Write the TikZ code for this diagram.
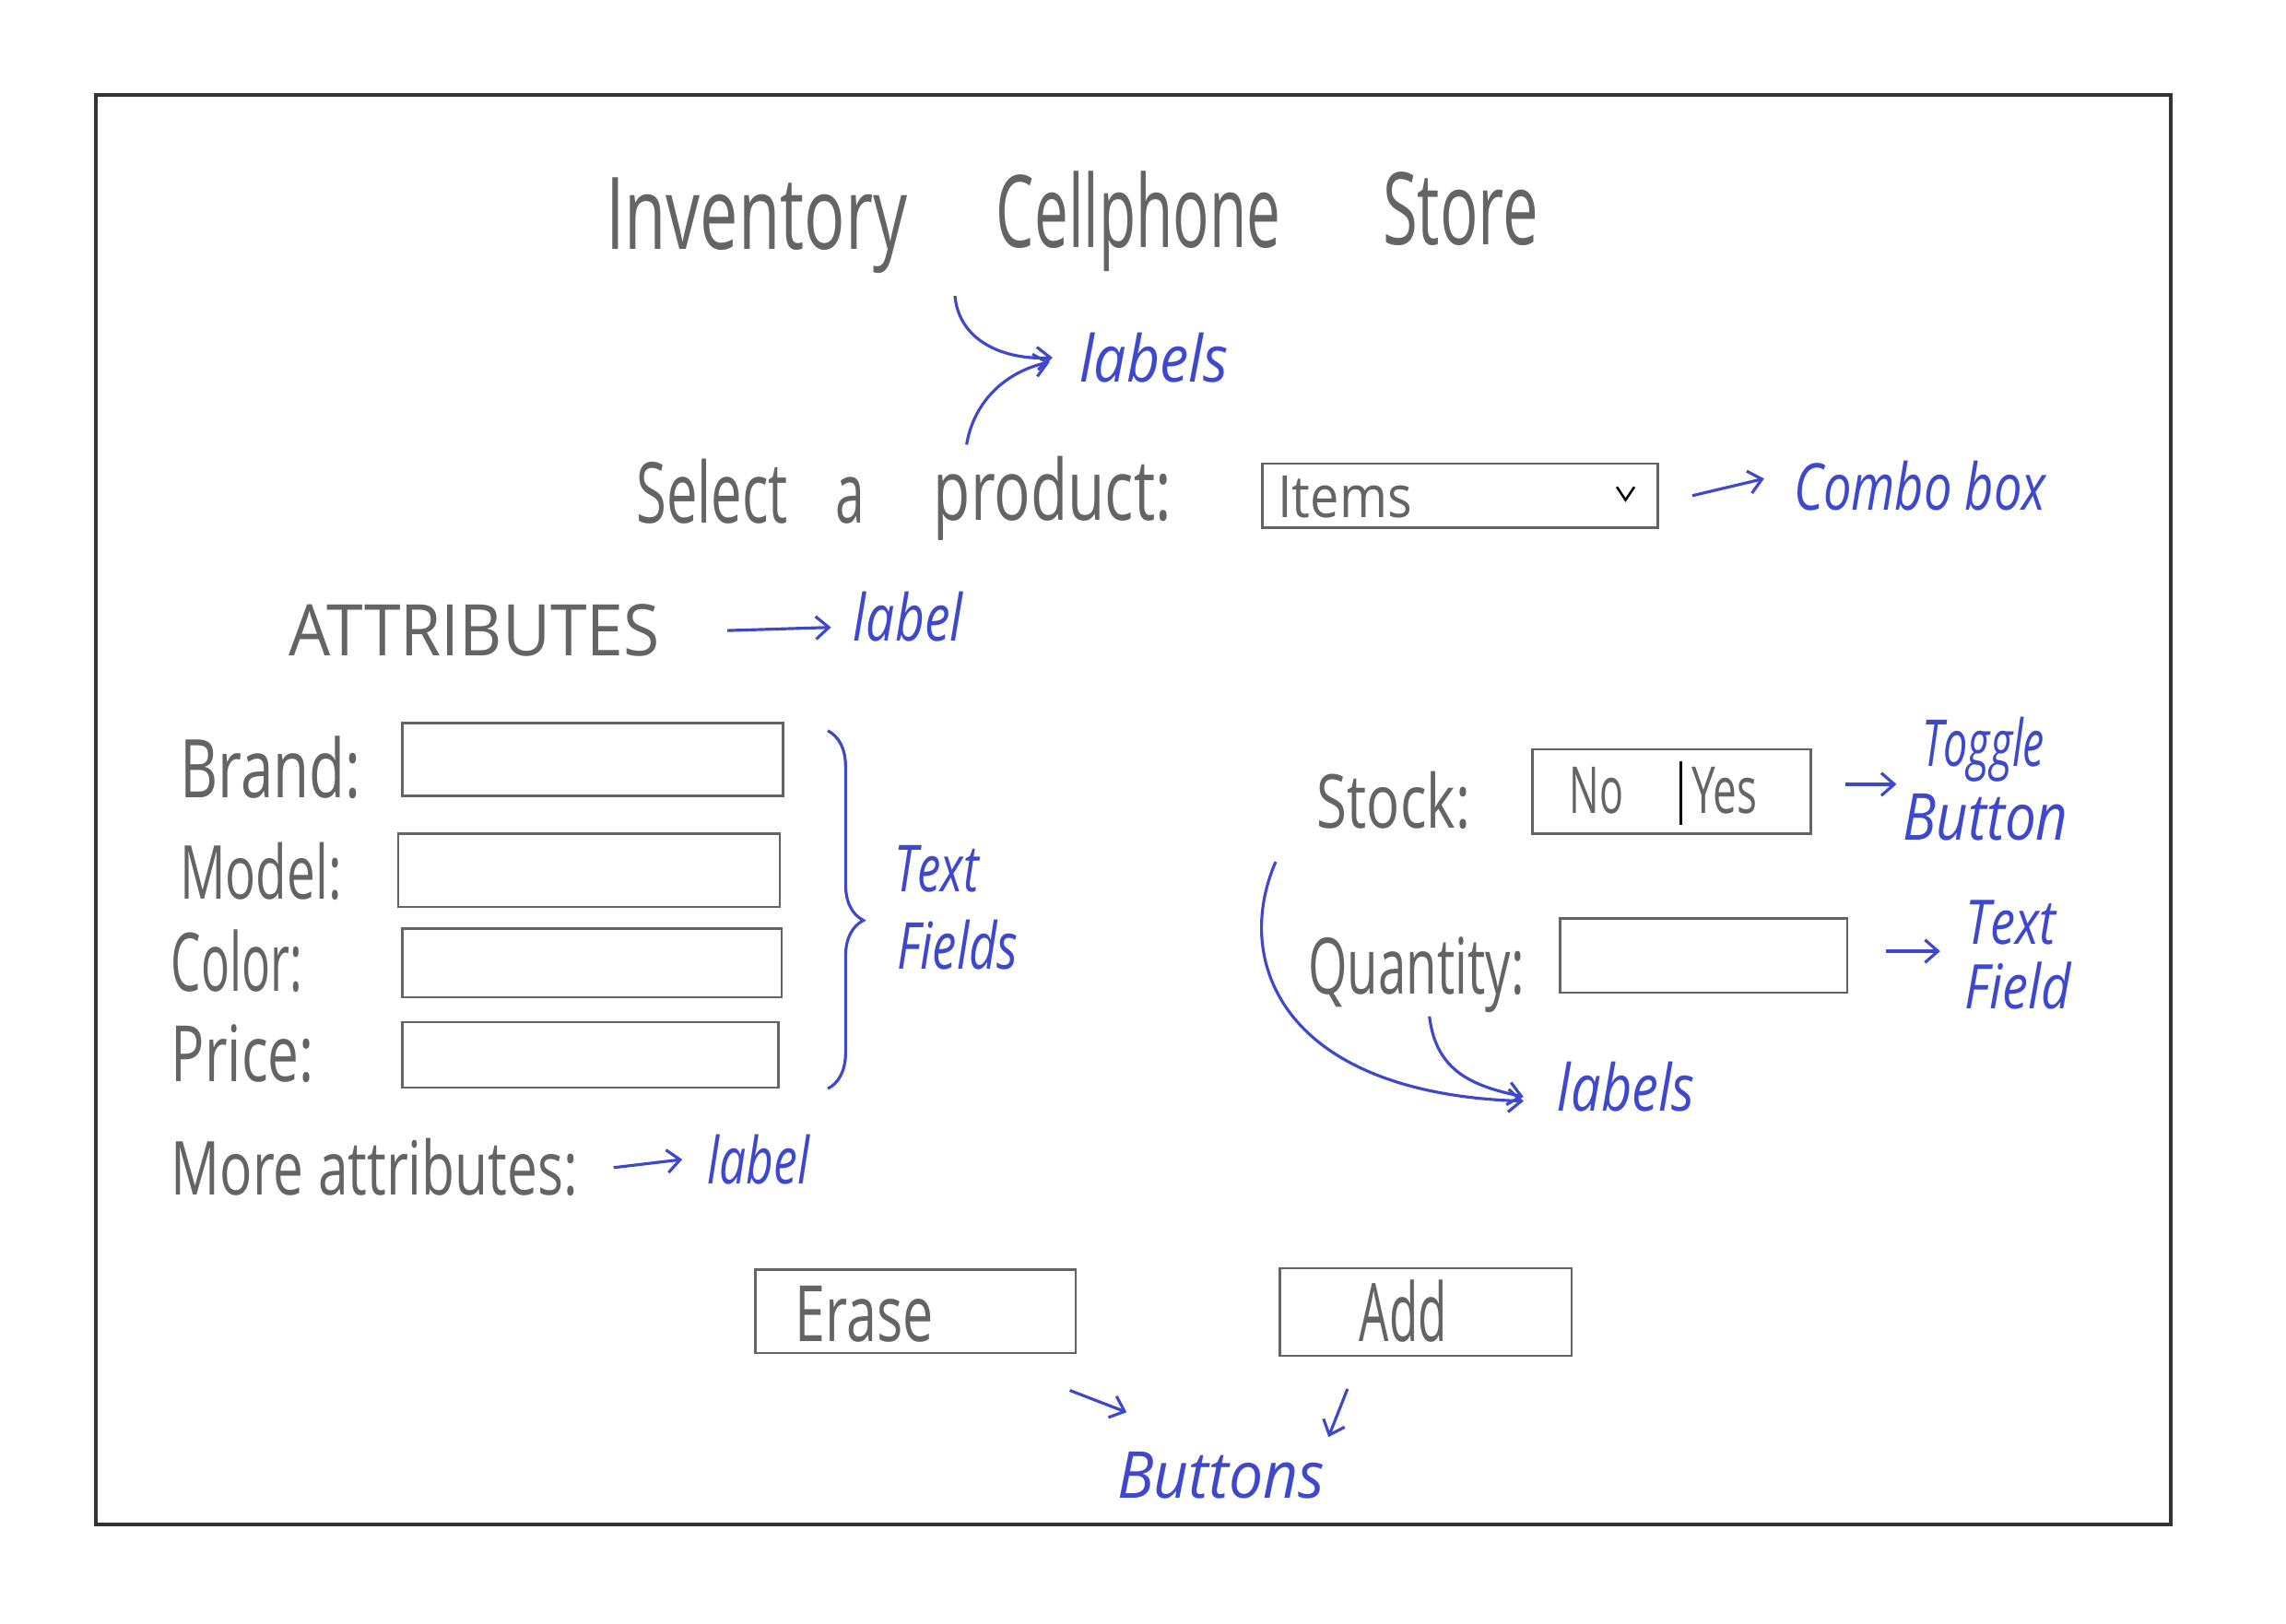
\documentclass[tikz,border=0pt]{standalone}
\usepackage{fontspec}
\setmainfont{Open Sans}
\usetikzlibrary{fit,calc,decorations.pathreplacing,arrows.meta}
\definecolor{pencil}{RGB}{100,100,100}
\definecolor{ink}{RGB}{62,72,205}
\newlength\unitpx
\setlength\unitpx{0.015816cm}
\newcommand\hw[2]{\resizebox{#1\unitpx}{\height}{#2}}
\tikzset{
  pencil/.style={text=pencil, inner sep=0pt, anchor=base west},
  note/.style={text=ink, inner sep=0pt, anchor=base west, font=\itshape\fontsize{20}{20}\selectfont},
  field/.style={draw=pencil, line width=0.7pt, inner sep=0pt},
  pointer/.style={draw=ink, line width=0.9pt, -{Straight Barb[length=4pt,width=7pt]}},
}
\begin{document}
\begin{tikzpicture}[x=0.015816cm, y=-0.015816cm]
\useasboundingbox[fill=white] (0,0) rectangle (1568,1114);
\draw[line width=1.1pt, black!80] (66,65) rectangle (1489,1046);

% title
\node[pencil, font=\fontsize{31}{31}\selectfont] (t1) at (415,171) {\hw{207}{Inventory}};
\node[pencil, font=\fontsize{31}{31}\selectfont] (t2) at (683,170) {\hw{195}{Cellphone}};
\node[pencil, font=\fontsize{31}{31}\selectfont] (t3) at (948,168) {\hw{107}{Store}};

% product
\node[pencil, font=\fontsize{26}{26}\selectfont] (sel1) at (436,359) {\hw{104}{Select}};
\node[pencil, font=\fontsize{26}{26}\selectfont] (sel2) at (573,359) {\hw{20}{a}};
\node[pencil, font=\fontsize{26}{26}\selectfont] (sel3) at (640,357) {\hw{163}{product:}};
\node[field, fit={(866,318) (1137,362)}] (combo) {};
\node[pencil, font=\fontsize{18}{18}\selectfont] (items) at (876,355) {\hw{92}{Items}};
\draw[pencil, line width=0.7pt] (1109,334) -- (1115,343) -- (1121,334);

% attributes
\node[pencil, font=\fontsize{22}{22}\selectfont] (attr) at (198,450) {\hw{254}{ATTRIBUTES}};
\node[pencil, font=\fontsize{25}{25}\selectfont] (brand) at (123,547) {\hw{124}{Brand:}};
\node[field, fit={(276,496) (537,546)}] (brandbox) {};
\node[pencil, font=\fontsize{23}{23}\selectfont] (model) at (123,617) {\hw{111}{Model:}};
\node[field, fit={(273,572) (535,622)}] (modelbox) {};
\node[pencil, font=\fontsize{25}{25}\selectfont] (color) at (117,680) {\hw{90}{Color:}};
\node[field, fit={(276,637) (536,684)}] (colorbox) {};
\node[pencil, font=\fontsize{24}{24}\selectfont] (price) at (117,742) {\hw{98}{Price:}};
\node[field, fit={(276,701) (534,746)}] (pricebox) {};
\node[pencil, font=\fontsize{23}{23}\selectfont] (more) at (117,820) {\hw{279}{More attributes:}};

% stock and quantity
\node[pencil, font=\fontsize{23}{23}\selectfont] (stock) at (903,568) {\hw{105}{Stock:}};
\node[field, fit={(1051,514) (1242,572)}] (toggle) {};
\node[pencil, font=\fontsize{20}{20}\selectfont] (no) at (1076,558) {\hw{37}{No}};
\draw[pencil, line width=0.7pt] (1153,522) -- (1153,566);
\node[pencil, font=\fontsize{20}{20}\selectfont] (yes) at (1160,558) {\hw{45}{Yes}};
\node[pencil, font=\fontsize{24}{24}\selectfont] (qty) at (897,682) {\hw{148}{Quantity:}};
\node[field, fit={(1070,630) (1267,681)}] (qtybox) {};

% buttons
\node[field, fit={(518,871) (738,928)}] (erase) {};
\node[pencil, font=\fontsize{24}{24}\selectfont] (erasetxt) at (545,920) {\hw{95}{Erase}};
\node[field, fit={(878,870) (1078,930)}] (add) {};
\node[pencil, font=\fontsize{25}{25}\selectfont] (addtxt) at (932,920) {\hw{60}{Add}};

% notes
\node[note] (lbl1) at (740,262) {\hw{102}{labels}};
\node[note] (combonote) at (1230,350) {\hw{173}{Combo box}};
\node[note] (attrnote) at (585,440) {\hw{75}{label}};
\node[note] (tf1) at (613,612) {\hw{58}{Text}};
\node[note] (tf2) at (615,665) {\hw{83}{Fields}};
\node[note] (tog1) at (1318,526) {\hw{84}{Toggle}};
\node[note] (tog2) at (1305,576) {\hw{113}{Button}};
\node[note, font=\itshape\fontsize{19}{19}\selectfont] (qf1) at (1348,648) {\hw{62}{Text}};
\node[note, font=\itshape\fontsize{19}{19}\selectfont] (qf2) at (1347,692) {\hw{73}{Field}};
\node[note] (lbl2) at (1068,762) {\hw{94}{labels}};
\node[note] (morenote) at (485,812) {\hw{70}{label}};
\node[note] (btnnote) at (766,1028) {\hw{142}{Buttons}};

% pointers
\coordinate (up1) at (655,203);
\coordinate (up2) at (663,305);
\draw[pointer] (up1) .. controls (658,235) and (690,247) .. ($(lbl1.west)+(-18,0)$);
\draw[pointer] (up2) .. controls (668,275) and (690,255) .. ($(lbl1.west)+(-20,3)$);
\draw[pointer] ($(combo.east)+(23,0)$) -- ($(combonote.west)+(-20,-5)$);
\draw[pointer] ($(attr.east)+(46,0)$) -- ($(attrnote.west)+(-15,7)$);
\draw[ink, line width=0.9pt, decorate, decoration={brace, amplitude=11pt, aspect=0.53}]
  ($(brandbox.north east)+(30,6)$) -- ($(pricebox.south east)+(33,0)$);
\draw[pointer] ($(toggle.east)+(23,-5)$) -- ($(toggle.east)+(58,-5)$);
\draw[pointer] ($(qtybox.east)+(26,-3)$) -- ($(qtybox.east)+(63,-3)$);
\draw[pointer] ($(stock.south west)+(-28,22)$) .. controls (845,660) and (880,750) .. ($(lbl2.west)+(-23,10)$);
\draw[pointer] ($(qty.south)+(9,2)$) .. controls (985,735) and (1010,745) .. ($(lbl2.west)+(-23,7)$);
\draw[pointer] ($(more.east)+(24,0)$) -- ($(morenote.west)+(-17,0)$);
\draw[pointer] ($(erase.south east)+(-5,25)$) -- ($(erase.south east)+(34,40)$);
\draw[pointer] ($(add.south west)+(47,22)$) -- ($(add.south west)+(34,55)$);
\end{tikzpicture}
\end{document}
